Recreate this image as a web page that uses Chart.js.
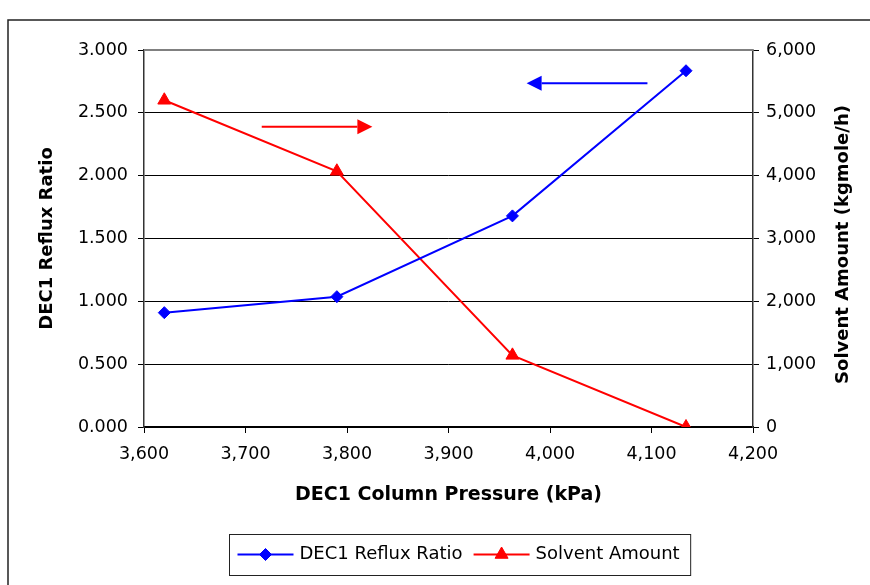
<!DOCTYPE html>
<html>
<head>
<meta charset="utf-8">
<script src="https://cdn.jsdelivr.net/npm/chart.js@4.4.1/dist/chart.umd.min.js"></script>
<style>
  html, body { margin: 0; padding: 0; background: #fff; }
  #wrap { width: 870px; height: 585px; }
</style>
</head>
<body>
<div id="wrap"><canvas id="chart" width="870" height="585"></canvas></div>
<script>
// Column pressure (kPa) and the two responses
const pressure = [3620, 3790, 3963, 4134];
const refluxRatio = [0.91, 1.037, 1.68, 2.835];
const solventAmount = [5200, 4070, 1140, 0];

// Axis ranges / tick steps
const xTicks = { min: 3600, max: 4200, step: 100 };
const yTicks = { min: 0, max: 3, step: 0.5 };
const y2Ticks = { min: 0, max: 6000, step: 1000 };

// Direction arrows: which axis each one belongs to, from -> to (in data units)
const arrows = [
  { axis: 'y2', color: '#FF0000', from: 3716, to: 3825, level: 4780 },
  { axis: 'y',  color: '#0000FF', from: 4096, to: 3977, level: 2.735 }
];

const FONT = "'DejaVu Sans', sans-serif";
const rightTitle = 'Solvent Amount (kgmole/h)';
Chart.defaults.font.family = FONT;
Chart.defaults.color = '#000';

const fmtThousands = v => Number(v).toLocaleString('en-US');

const reflux = pressure.map((p, i) => ({ x: p, y: refluxRatio[i] }));
const solvent = pressure.map((p, i) => ({ x: p, y: solventAmount[i] }));

// Page frame, plot top edge, arrows, right-axis title and boxed legend
const decorations = {
  id: 'decorations',
  beforeDraw(chart) {
    const ctx = chart.ctx;
    ctx.save();
    ctx.fillStyle = '#fff';
    ctx.fillRect(0, 0, chart.width, chart.height);
    ctx.strokeStyle = '#222';
    ctx.lineWidth = 1.5;
    ctx.beginPath();
    ctx.moveTo(8, chart.height);
    ctx.lineTo(8, 20);
    ctx.lineTo(chart.width, 20);
    ctx.stroke();
    ctx.restore();
  },
  beforeDatasetsDraw(chart) {
    const { ctx, chartArea: a } = chart;
    ctx.save();
    ctx.strokeStyle = '#808080';
    ctx.lineWidth = 2;
    ctx.beginPath();
    ctx.moveTo(a.left, a.top);
    ctx.lineTo(a.right, a.top);
    ctx.stroke();
    ctx.restore();
  },
  afterDatasetsDraw(chart) {
    const ctx = chart.ctx;
    const xs = chart.scales.x;
    arrows.forEach(ar => {
      const ys = chart.scales[ar.axis];
      const x0 = xs.getPixelForValue(ar.from);
      const x1 = xs.getPixelForValue(ar.to);
      const y = ys.getPixelForValue(ar.level);
      const dir = Math.sign(x1 - x0);
      const head = 15, half = 7.5;
      ctx.save();
      ctx.strokeStyle = ar.color;
      ctx.fillStyle = ar.color;
      ctx.lineWidth = 2;
      ctx.beginPath();
      ctx.moveTo(x0, y);
      ctx.lineTo(x1 - dir * head, y);
      ctx.stroke();
      ctx.beginPath();
      ctx.moveTo(x1, y);
      ctx.lineTo(x1 - dir * head, y - half);
      ctx.lineTo(x1 - dir * head, y + half);
      ctx.closePath();
      ctx.fill();
      ctx.restore();
    });
  },
  afterDraw(chart) {
    const ctx = chart.ctx;

    // right axis title, reading bottom-to-top
    const y2 = chart.scales.y2;
    ctx.save();
    ctx.translate(y2.right - 27, (chart.chartArea.top + chart.chartArea.bottom) / 2 + 6);
    ctx.rotate(-Math.PI / 2);
    ctx.font = 'bold 18px ' + FONT;
    ctx.fillStyle = '#000';
    ctx.textAlign = 'center';
    ctx.textBaseline = 'middle';
    ctx.fillText(rightTitle, 0, 0);
    ctx.restore();

    // legend
    const ds = chart.data.datasets;
    const fontSize = 18;
    ctx.save();
    ctx.font = fontSize + 'px ' + FONT;
    const sym = 56, gapText = 6, gapItem = 11, padL = 8, padR = 11;
    const widths = ds.map(d => ctx.measureText(d.label).width);
    let total = padL + padR;
    widths.forEach((w, i) => { total += sym + gapText + w + (i < widths.length - 1 ? gapItem : 0); });
    const cx = 460, cy = 554.5, h = 41;
    const left = Math.round(cx - total / 2) + 0.5;
    const top = Math.round(cy - h / 2) + 0.5;
    ctx.fillStyle = '#fff';
    ctx.fillRect(left, top, total, h);
    ctx.strokeStyle = '#222';
    ctx.lineWidth = 1;
    ctx.strokeRect(left, top, total, h);
    let x = left + padL;
    ds.forEach((d, i) => {
      ctx.strokeStyle = d.borderColor;
      ctx.lineWidth = 2;
      ctx.beginPath();
      ctx.moveTo(x, cy);
      ctx.lineTo(x + sym, cy);
      ctx.stroke();
      ctx.fillStyle = d.pointBackgroundColor;
      ctx.strokeStyle = d.pointBorderColor;
      ctx.lineWidth = 1;
      Chart.helpers.drawPoint(ctx, {
        pointStyle: d.pointStyle,
        radius: d.pointRadius,
        rotation: 0,
        borderWidth: 1
      }, x + sym / 2, cy);
      ctx.fillStyle = '#000';
      ctx.textBaseline = 'middle';
      ctx.textAlign = 'left';
      ctx.fillText(d.label, x + sym + gapText, cy);
      x += sym + gapText + widths[i] + gapItem;
    });
    ctx.restore();
  }
};

const chart = new Chart(document.getElementById('chart'), {
  type: 'line',
  data: {
    datasets: [
      {
        label: 'DEC1 Reflux Ratio',
        data: reflux,
        yAxisID: 'y',
        borderColor: '#0000FF',
        backgroundColor: '#0000FF',
        pointBackgroundColor: '#0000FF',
        pointBorderColor: '#0000FF',
        pointStyle: 'rectRot',
        pointRadius: 6,
        pointBorderWidth: 1,
        borderWidth: 2,
        tension: 0,
        fill: false
      },
      {
        label: 'Solvent Amount',
        data: solvent,
        yAxisID: 'y2',
        borderColor: '#FF0000',
        backgroundColor: '#FF0000',
        pointBackgroundColor: '#FF0000',
        pointBorderColor: '#FF0000',
        pointStyle: 'triangle',
        pointRadius: 7.5,
        pointBorderWidth: 1,
        borderWidth: 2,
        tension: 0,
        fill: false
      }
    ]
  },
  options: {
    responsive: false,
    animation: false,
    events: [],
    layout: { padding: { left: 8, top: 50, right: 0, bottom: 78 } },
    plugins: {
      legend: { display: false },
      tooltip: { enabled: false }
    },
    scales: {
      x: {
        type: 'linear',
        min: xTicks.min,
        max: xTicks.max,
        afterFit(s) { s.height = 80; },
        ticks: {
          stepSize: xTicks.step,
          padding: 11,
          font: { size: 17.5 },
          color: '#000',
          callback: v => fmtThousands(v)
        },
        grid: { drawOnChartArea: false, drawTicks: true, tickLength: 6, color: '#000', lineWidth: 1 },
        border: { display: true, color: '#000', width: 1.5 },
        title: {
          display: true,
          text: 'DEC1 Column Pressure (kPa)',
          font: { size: 19, weight: 'bold' },
          color: '#000',
          padding: { top: 0, bottom: 1 }
        }
      },
      y: {
        type: 'linear',
        position: 'left',
        min: yTicks.min,
        max: yTicks.max,
        afterFit(s) { s.width = 136; },
        ticks: {
          stepSize: yTicks.step,
          padding: 10,
          font: { size: 17.5 },
          color: '#000',
          callback: v => Number(v).toFixed(3)
        },
        grid: { drawOnChartArea: true, drawTicks: true, tickLength: 6, color: '#000', lineWidth: 1 },
        border: { display: true, color: '#333', width: 1.5 },
        title: {
          display: true,
          text: 'DEC1 Reflux Ratio',
          font: { size: 18, weight: 'bold' },
          color: '#000',
          padding: { top: 29, bottom: 0 }
        }
      },
      y2: {
        type: 'linear',
        position: 'right',
        min: y2Ticks.min,
        max: y2Ticks.max,
        afterFit(s) { s.width = 117; },
        ticks: {
          stepSize: y2Ticks.step,
          padding: 7,
          font: { size: 17.5 },
          color: '#000',
          callback: v => fmtThousands(v)
        },
        grid: { drawOnChartArea: false, drawTicks: true, tickLength: 6, color: '#000', lineWidth: 1 },
        border: { display: true, color: '#333', width: 1.5 },
        title: { display: false }
      }
    }
  },
  plugins: [decorations]
});
</script>
</body>
</html>
